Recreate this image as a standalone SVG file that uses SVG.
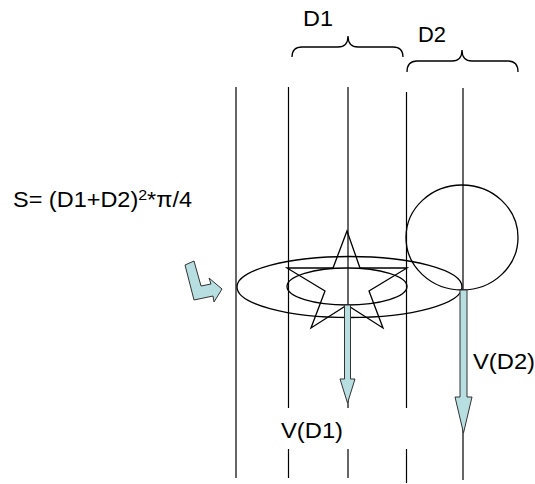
<svg xmlns="http://www.w3.org/2000/svg" width="535" height="484" viewBox="0 0 535 484">
<style>
.ln{stroke:#000;stroke-width:1.2;fill:none}
.sh{stroke:#000;stroke-width:1.3;fill:none}
.ar{fill:#B7DEE1;stroke:#333;stroke-width:1}
.t{font-family:"Liberation Sans",Arial,sans-serif;font-size:22px;fill:#000}
</style>
<rect width="535" height="484" fill="#fff"/>
<g id="connectors">
<line class="ln" x1="236" y1="87" x2="236" y2="478"/>
<line class="ln" x1="288.5" y1="87" x2="288.5" y2="408"/>
<line class="ln" x1="288.5" y1="449" x2="288.5" y2="478"/>
<line class="ln" x1="348" y1="87" x2="348" y2="408"/>
<line class="ln" x1="348" y1="449" x2="348" y2="478"/>
<line class="ln" x1="406.5" y1="92" x2="406.5" y2="408"/>
<line class="ln" x1="406.5" y1="449" x2="406.5" y2="483"/>
<line class="ln" x1="463" y1="88" x2="463" y2="480"/>
</g>
<g id="brace-d1"><path class="sh" d="M292,57 Q292,47 302,47 L338,47 Q348,47 348,36 Q348,47 358,47 L393,47 Q403,47 403,57"/></g>
<g id="brace-d2"><path class="sh" d="M407,72 Q407,61 417,61 L452,61 Q462,61 462,50 Q462,61 472,61 L508,61 Q518,61 518,72"/></g>
<g id="label-d1"><text class="t" x="303" y="26" font-size="23" textLength="30" lengthAdjust="spacingAndGlyphs">D1</text></g>
<g id="label-d2"><text class="t" x="418" y="42" font-size="23" textLength="28" lengthAdjust="spacingAndGlyphs">D2</text></g>
<g id="formula"><text class="t" x="13" y="207" textLength="179" lengthAdjust="spacingAndGlyphs">S= (D1+D2)<tspan dy="-7" font-size="15">2</tspan><tspan dy="7">*π/4</tspan></text></g>
<g id="circle-d2"><ellipse class="sh" cx="462" cy="237.5" rx="56" ry="52.5"/></g>
<g id="ellipse-big"><ellipse class="sh" cx="349.5" cy="287" rx="112.5" ry="30.5"/></g>
<g id="ellipse-small"><ellipse class="sh" cx="347" cy="286.5" rx="60" ry="18.5"/></g>
<g id="star"><polygon class="sh" points="347,231 360,268 407,268 369,291 383,328 347,305 311,328 325,291 287,268 333,268"/></g>
<g id="bent-arrow"><polygon class="ar" points="185,265 194,261 201,286 211,284 209,278 222,289 214,302 213,296 194,300"/></g>
<g id="arrow-v1"><polygon class="ar" points="344.5,305 350.5,305 350.5,379 355,379 347.5,403 340,379 344.5,379"/></g>
<g id="arrow-v2"><polygon class="ar" points="460,290 467,290 467,397 472,397 463.5,433 455,397 460,397"/></g>
<g id="label-v1"><text class="t" x="281" y="437.5" textLength="62" lengthAdjust="spacingAndGlyphs">V(D1)</text></g>
<g id="label-v2"><text class="t" x="473" y="368.5" textLength="62" lengthAdjust="spacingAndGlyphs">V(D2)</text></g>
</svg>
